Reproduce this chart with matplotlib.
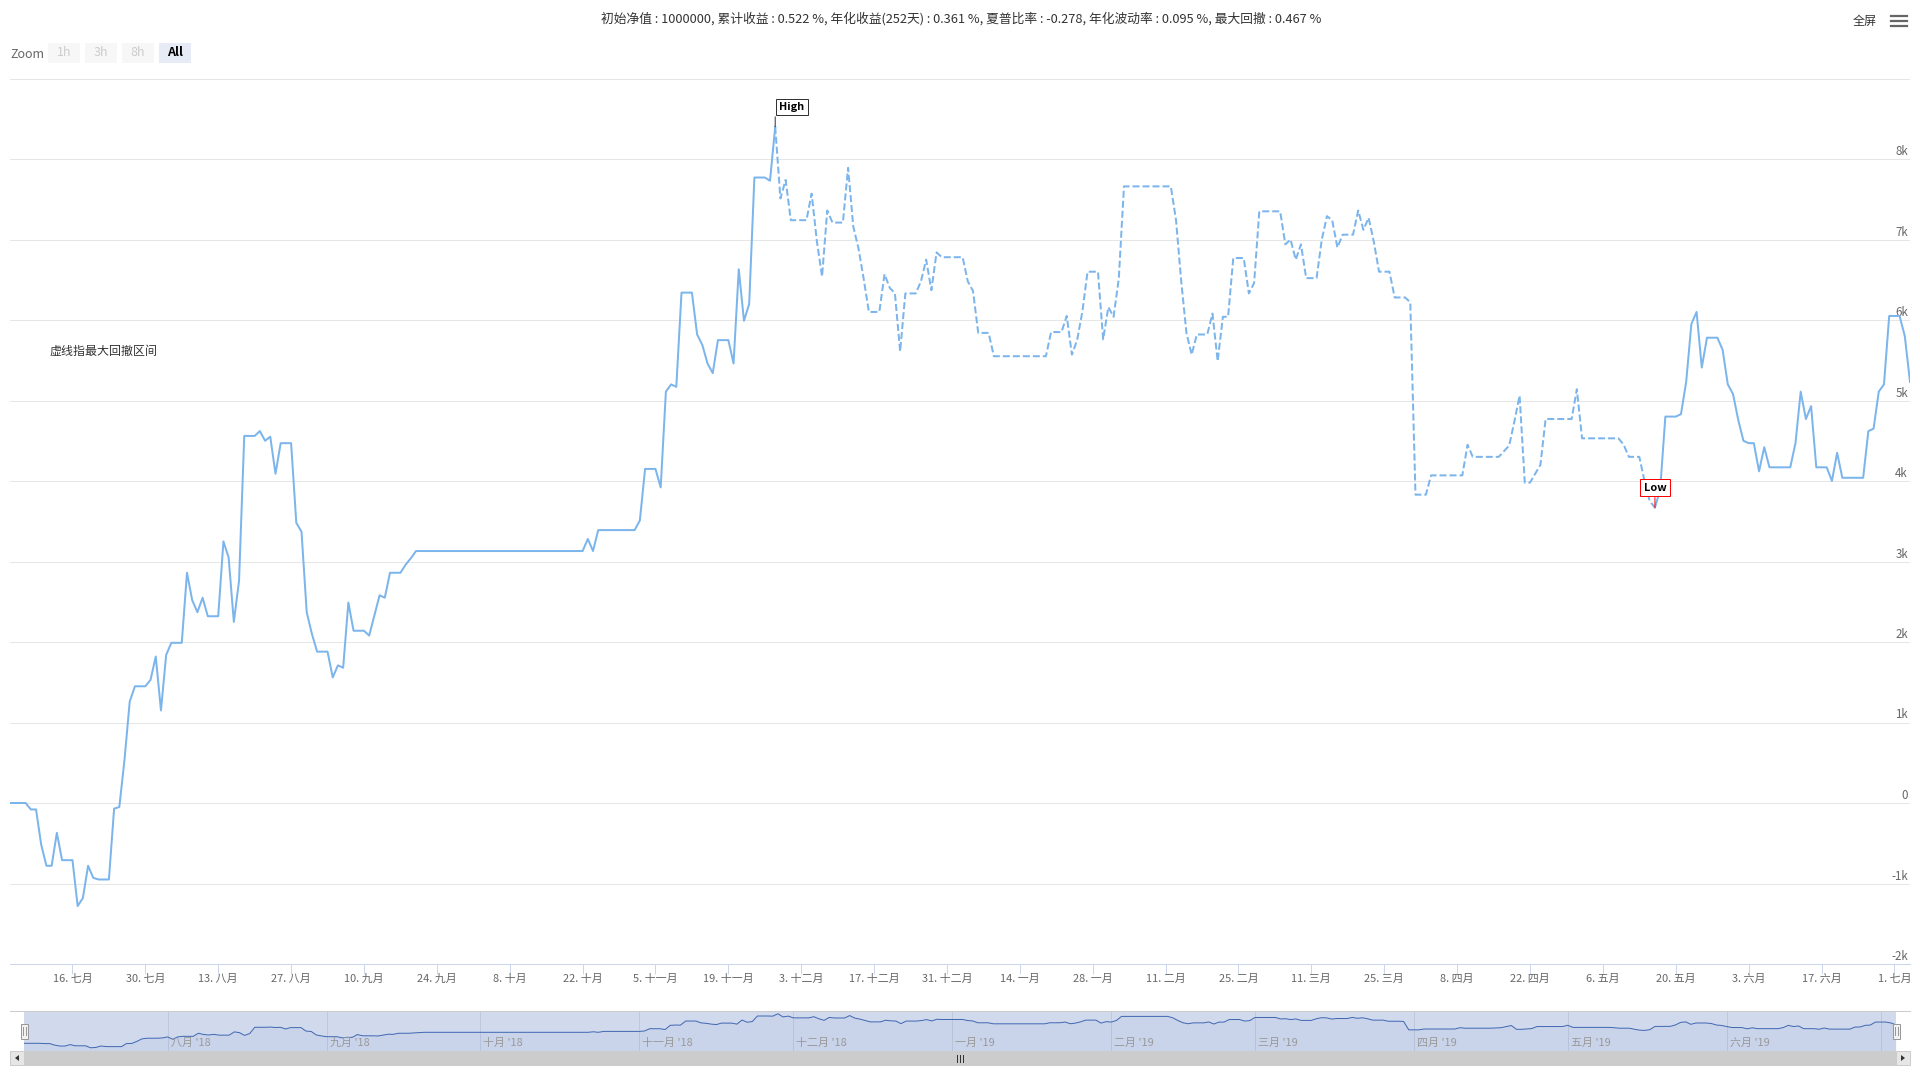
import numpy as np
import pandas as pd
import matplotlib
matplotlib.use('Agg')
import matplotlib.pyplot as plt
from matplotlib.patches import Rectangle, Polygon
from matplotlib.lines import Line2D
from matplotlib.transforms import IdentityTransform, blended_transform_factory, offset_copy

plt.rcParams['font.family'] = ['Noto Sans CJK SC', 'DejaVu Sans']

# ---- data: cumulative profit, day offset from 2018-07-04 ----
start_date = '2018-07-04'

days = [
    # rise to the high
    0, 3, 4, 5, 6, 7, 8, 9, 10, 12,
    13, 14, 15, 16, 17, 19, 20, 21, 22, 23,
    24, 26, 27, 28, 29, 30, 31, 33, 34, 35,
    36, 37, 38, 40, 41, 42, 43, 44, 45, 47,
    48, 49, 50, 51, 52, 54, 55, 56, 57, 58,
    59, 61, 62, 63, 64, 65, 66, 68, 69, 71,
    72, 73, 75, 76, 77, 78, 110, 111, 112, 113,
    120, 121, 122, 124, 125, 126, 127, 128, 129, 131,
    132, 133, 134, 135, 136, 138, 139, 140, 141, 142,
    143, 145, 146, 147,
    # drawdown
    148, 149, 150, 153, 154, 155, 156, 157, 158, 160,
    161, 162, 163, 164, 165, 167, 168, 169, 170, 171,
    172, 174, 175, 176, 177, 178, 179, 183, 184, 185,
    186, 188, 189, 199, 200, 202, 203, 204, 205, 206,
    207, 209, 210, 211, 212, 213, 214, 223, 224, 225,
    226, 227, 228, 230, 231, 232, 233, 234, 235, 237,
    238, 239, 240, 244, 245, 246, 247, 248, 249, 251,
    252, 253, 254, 255, 256, 258, 259, 260, 261, 262,
    263, 265, 266, 268, 269, 270, 272, 273, 279, 280,
    281, 286, 288, 289, 290, 291, 292, 294, 295, 300,
    301, 302, 309, 310, 311, 313, 314, 315, 316,
    # recovery
    317, 318, 320, 321, 322, 323, 324, 325, 326, 328,
    329, 330, 331, 332, 333, 334, 335, 336, 337, 338,
    342, 343, 344, 345, 346, 347, 349, 350, 351, 352,
    356, 357, 358, 359, 360, 361, 363, 364, 365,
]

pnl = [
    0, 0, -80, -80, -520, -780, -780, -370, -710, -710,
    -1280, -1180, -780, -930, -950, -950, -70, -50, 540, 1260,
    1450, 1450, 1530, 1820, 1150, 1840, 1990, 1990, 2860, 2520,
    2370, 2550, 2320, 2320, 3250, 3050, 2250, 2760, 4560, 4560,
    4620, 4500, 4550, 4090, 4470, 4470, 3480, 3370, 2370, 2100,
    1880, 1880, 1560, 1710, 1680, 2490, 2140, 2140, 2080, 2580,
    2550, 2860, 2860, 2960, 3040, 3130, 3130, 3280, 3130, 3390,
    3390, 3510, 4150, 4150, 3920, 5110, 5200, 5170, 6340, 6340,
    5820, 5690, 5460, 5340, 5750, 5750, 5460, 6630, 5990, 6200,
    7770, 7770, 7730, 8400,
    7510, 7740, 7240, 7240, 7570, 6980, 6540, 7360, 7210, 7210,
    7890, 7160, 6890, 6510, 6100, 6100, 6570, 6400, 6330, 5610,
    6330, 6330, 6480, 6750, 6370, 6840, 6780, 6780, 6480, 6360,
    5840, 5840, 5550, 5550, 5850, 5850, 6050, 5570, 5750, 6100,
    6600, 6600, 5760, 6160, 6040, 6510, 7660, 7660, 7240, 6480,
    5840, 5570, 5820, 5820, 6080, 5490, 6040, 6040, 6770, 6770,
    6330, 6460, 7350, 7350, 6940, 7000, 6750, 6940, 6520, 6520,
    7000, 7290, 7240, 6900, 7060, 7060, 7360, 7120, 7270, 6970,
    6600, 6600, 6280, 6280, 6220, 3830, 3830, 4070, 4070, 4450,
    4300, 4300, 4440, 4740, 5060, 3980, 3980, 4200, 4770, 4770,
    5140, 4530, 4530, 4450, 4300, 4300, 4000, 3750, 3670,
    3890, 4800, 4800, 4830, 5230, 5950, 6100, 5410, 5780, 5780,
    5630, 5200, 5080, 4760, 4500, 4470, 4470, 4120, 4420, 4170,
    4170, 4470, 5110, 4770, 4930, 4170, 4170, 4000, 4350, 4040,
    4040, 4620, 4650, 5110, 5200, 6050, 6050, 5800, 5230,
]

month_cn = ['一月', '二月', '三月', '四月', '五月', '六月',
            '七月', '八月', '九月', '十月', '十一月', '十二月']
y_ticks = [-2000, -1000, 0, 1000, 2000, 3000, 4000, 5000, 6000, 7000, 8000, 9000]

title = ('初始净值 : 1000000, 累计收益 : 0.522 %, 年化收益(252天) : 0.361 %, '
         '夏普比率 : -0.278, 年化波动率 : 0.095 %, 最大回撤 : 0.467 %')
note = '虚线指最大回撤区间'
zoom_buttons = ['1h', '3h', '8h', 'All']

# ---- setup ----
W, H = 1920, 1080
LINE = '#7cb5ec'
px_pt = 0.72  # one pixel in points at dpi 100

dates = pd.to_datetime(start_date) + pd.to_timedelta(days, unit='D')
pnl = np.array(pnl, dtype=float)
hi = int(np.argmax(pnl))
lo = hi + int(np.argmin(pnl[hi:]))

fig = plt.figure(figsize=(W / 100, H / 100), dpi=100)
fig.patch.set_facecolor('white')


def rect(l, t, r, b):
    return [l / W, 1 - b / H, (r - l) / W, (b - t) / H]


def box(l, t, r, b, **kw):
    fig.add_artist(Rectangle((l, H - b), r - l, b - t, transform=IdentityTransform(), **kw))


def hline(x0, x1, y, **kw):
    fig.add_artist(Line2D([x0, x1], [H - y, H - y], transform=IdentityTransform(), **kw))


def vline(x, y0, y1, **kw):
    fig.add_artist(Line2D([x, x], [H - y0, H - y1], transform=IdentityTransform(), **kw))


# ---- main plot ----
ax = fig.add_axes(rect(10, 78.5, 1910, 964))
ax.set_xlim(dates[0], dates[-1])
ax.set_ylim(-2000, 9000)
for s in ax.spines.values():
    s.set_visible(False)
ax.set_yticks([])

for v in y_ticks:
    ax.axhline(v, color='#e6e6e6', lw=px_pt, zorder=0)
ytr = offset_copy(blended_transform_factory(ax.transAxes, ax.transData), fig=fig, x=-2, y=1, units='dots')
for v in y_ticks[:-1]:
    lab = '0' if v == 0 else f'{v // 1000}k'
    ax.text(1, v, lab, transform=ytr, ha='right', va='bottom', fontsize=8.3, color='#666666')
ax.axhline(-2000, color='#ccd6eb', lw=px_pt, clip_on=False, zorder=1)

tick_dates = pd.date_range('2018-07-16', '2019-07-01', freq='14D')
ax.set_xticks(tick_dates)
ax.set_xticklabels([f'{d.day}. {month_cn[d.month - 1]}' for d in tick_dates])
ax.tick_params(axis='x', length=10 * px_pt, width=px_pt, color='#ccd6eb',
               labelsize=7.9, labelcolor='#666666', pad=0)

ax.plot(dates[:hi + 1], pnl[:hi + 1], color=LINE, lw=1.44, solid_joinstyle='round', zorder=3)
ax.plot(dates[hi:lo + 1], pnl[hi:lo + 1], color=LINE, lw=1.44, ls=(0, (3.5, 1.5)), zorder=3)
ax.plot(dates[lo:], pnl[lo:], color=LINE, lw=1.44, solid_joinstyle='round', zorder=3)

# flags
ax.annotate('', xy=(dates[hi], pnl[hi]), xytext=(0, 10 * px_pt), textcoords='offset points',
            arrowprops=dict(arrowstyle='-', color='#333333', lw=px_pt, shrinkA=0, shrinkB=0))
ax.annotate('High', xy=(dates[hi], pnl[hi]), xytext=(16.5 * px_pt, 20 * px_pt), textcoords='offset points',
            ha='center', va='center', fontsize=7.9, fontweight='bold', color='black', zorder=6,
            bbox=dict(boxstyle='square,pad=0.3', fc='white', ec='#333333', lw=px_pt))
ax.annotate('', xy=(dates[lo], pnl[lo]), xytext=(0, 10 * px_pt), textcoords='offset points',
            arrowprops=dict(arrowstyle='-', color='#ff0000', lw=px_pt, shrinkA=0, shrinkB=0))
ax.annotate('Low', xy=(dates[lo], pnl[lo]), xytext=(0, 20 * px_pt), textcoords='offset points',
            ha='center', va='center', fontsize=7.9, fontweight='bold', color='black', zorder=6,
            bbox=dict(boxstyle='square,pad=0.3', fc='white', ec='#ff0000', lw=px_pt))

# texts
fig.text(961 / W, 1 - 19 / H, title, ha='center', va='center', fontsize=9.2, color='#333333')
fig.text(49 / W, 1 - 351 / H, note, ha='left', va='center', fontsize=8.64, color='#333333')

# range selector
fig.text(10 / W, 1 - 54 / H, 'Zoom', ha='left', va='center', fontsize=9.0, color='#666666')
bx = [48, 85, 122, 159]
for lab, x0 in zip(zoom_buttons, bx):
    sel = lab == 'All'
    box(x0, 43, x0 + 32, 63, fc='#e6ebf5' if sel else '#f7f7f7', ec='none')
    fig.text((x0 + 16) / W, 1 - 53 / H, lab, ha='center', va='center', fontsize=9.0,
             color='black' if sel else '#cccccc', fontweight='bold' if sel else 'normal')

# fullscreen + menu
fig.text(1865 / W, 1 - 21 / H, '全屏', ha='center', va='center', fontsize=8.64, color='#333333')
for yy in (16, 21, 26):
    hline(1891, 1907, yy, color='#666666', lw=1.6)

# ---- navigator ----
nav = fig.add_axes(rect(24, 1011, 1896, 1051))
nav.set_xlim(dates[0], dates[-1])
nav_lo, nav_hi = -2191, 9197
nav.set_ylim(nav_lo, nav_hi)
for s in nav.spines.values():
    s.set_visible(False)
nav.set_xticks([])
nav.set_yticks([])
months = pd.date_range('2018-08-01', '2019-07-01', freq='MS')
for d in months:
    nav.axvline(d, color='#e6e6e6', lw=px_pt, zorder=0)
    if d < dates[-1] - pd.Timedelta(days=20):
        nav.annotate(f"{month_cn[d.month - 1]} '{d.strftime('%y')}", xy=(d, 0),
                     xycoords=('data', 'axes fraction'), xytext=(3 * px_pt, 3 * px_pt),
                     textcoords='offset points', ha='left', va='bottom', fontsize=7.9,
                     color='#999999', zorder=6)
nav.plot(dates, pnl, color='#335cad', lw=px_pt, zorder=2)
nav.fill_between(dates, pnl, nav_lo, color='#335cad', alpha=0.05, lw=0, zorder=1)
nav.add_patch(Rectangle((0, 0), 1, 1, transform=nav.transAxes,
                        fc=(102 / 255, 133 / 255, 194 / 255, 0.3), ec='none', zorder=5))

hline(10, 1910, 1011, color='#cccccc', lw=px_pt)
for hx in (24, 1896):
    box(hx - 3.5, 1023.5, hx + 3.5, 1038.5, fc='#f2f2f2', ec='#999999', lw=px_pt, zorder=10)
    vline(hx - 1.5, 1027, 1035, color='#999999', lw=px_pt, zorder=11)
    vline(hx + 1.5, 1027, 1035, color='#999999', lw=px_pt, zorder=11)

# scrollbar
box(24, 1051, 1896, 1065, fc='#cccccc', ec='#cccccc', lw=px_pt)
box(10, 1051, 24, 1065, fc='#e6e6e6', ec='#cccccc', lw=px_pt)
box(1896, 1051, 1910, 1065, fc='#e6e6e6', ec='#cccccc', lw=px_pt)
fig.add_artist(Polygon([(15, H - 1058), (19, H - 1055), (19, H - 1061)],
                       transform=IdentityTransform(), fc='#333333', ec='none'))
fig.add_artist(Polygon([(1905, H - 1058), (1901, H - 1055), (1901, H - 1061)],
                       transform=IdentityTransform(), fc='#333333', ec='none'))
for rx in (957, 960, 963):
    vline(rx, 1054.5, 1061.5, color='#333333', lw=px_pt)

fig.savefig('out.png', dpi=100, facecolor='white')
